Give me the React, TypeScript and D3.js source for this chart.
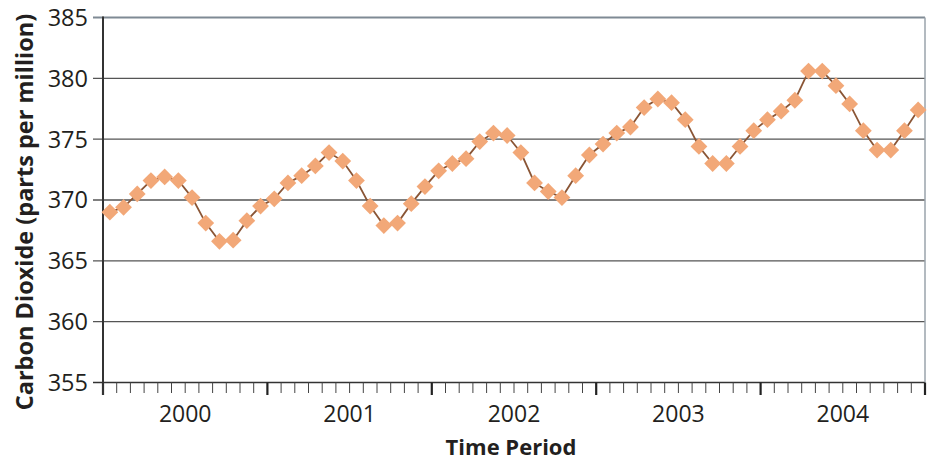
import React from "react";
import * as d3 from "d3";

const years = ["2000", "2001", "2002", "2003", "2004"];
const co2_2000 = [369.0, 369.4, 370.5, 371.6, 371.9, 371.6, 370.2, 368.1, 366.6, 366.7, 368.3, 369.5];
const co2_2001 = [370.1, 371.4, 372.0, 372.8, 373.9, 373.2, 371.6, 369.5, 367.9, 368.1, 369.7, 371.1];
const co2_2002 = [372.4, 373.0, 373.4, 374.8, 375.5, 375.3, 373.9, 371.4, 370.7, 370.2, 372.0, 373.7];
const co2_2003 = [374.6, 375.5, 376.0, 377.6, 378.3, 378.0, 376.6, 374.4, 373.0, 373.0, 374.4, 375.7];
const co2_2004 = [376.6, 377.3, 378.2, 380.6, 380.6, 379.4, 377.9, 375.7, 374.1, 374.1, 375.7, 377.4];
const yTicks = [355, 360, 365, 370, 375, 380, 385];

const values = [...co2_2000, ...co2_2001, ...co2_2002, ...co2_2003, ...co2_2004];

const W = 932;
const H = 461;
const left = 103;
const right = 925;
const top = 17.5;
const bottom = 382.5;

export default function App() {
  const n = values.length;
  const x = d3.scaleLinear().domain([0, n]).range([left, right]);
  const y = d3.scaleLinear().domain([355, 385]).range([bottom, top]);
  const line = d3
    .line<number>()
    .x((_, i) => x(i + 0.5))
    .y((d) => y(d));
  const r = 8.4;
  const diamond = (cx: number, cy: number) =>
    `M${cx},${cy - r}L${cx + r},${cy}L${cx},${cy + r}L${cx - r},${cy}Z`;
  const monthTicks = d3.range(0, n + 1);

  return (
    <svg
      width={W}
      height={H}
      style={{ position: "absolute", left: 0, top: 0 }}
      fontFamily="'Open Sans', sans-serif"
    >
      <rect width={W} height={H} fill="#fff" />
      {/* gridlines */}
      {yTicks.map((t) => (
        <line
          key={"g" + t}
          x1={left - 10}
          x2={right}
          y1={y(t)}
          y2={y(t)}
          stroke={t === 385 ? "#7f8a94" : t === 355 ? "#333" : "#555"}
          strokeWidth={t === 385 ? 2 : 1.3}
        />
      ))}
      {/* right border */}
      <line x1={right} x2={right} y1={top} y2={bottom} stroke="#9aa3ab" strokeWidth={1.5} />
      {/* month ticks */}
      {monthTicks.map((m) => {
        const major = m % 12 === 0;
        return (
          <line
            key={"t" + m}
            x1={x(m)}
            x2={x(m)}
            y1={bottom}
            y2={major ? 395 : 393}
            stroke={major ? "#222" : "#444"}
            strokeWidth={major ? 2.2 : 1}
          />
        );
      })}
      {/* y axis */}
      <line x1={left} x2={left} y1={top - 1} y2={395} stroke="#333" strokeWidth={2} />
      {/* y tick labels */}
      {yTicks.map((t) => (
        <text
          key={"l" + t}
          x={88}
          y={y(t)}
          dy="0.36em"
          textAnchor="end"
          fontSize={23.5}
          fill="#231f20"
        >
          {t}
        </text>
      ))}
      {/* year labels */}
      {years.map((yr, i) => (
        <text
          key={yr}
          x={x(i * 12 + 6)}
          y={422}
          textAnchor="middle"
          fontSize={23}
          fill="#231f20"
        >
          {yr}
        </text>
      ))}
      {/* series */}
      <path d={line(values) || ""} fill="none" stroke="#8a5535" strokeWidth={1.8} />
      {values.map((v, i) => (
        <path key={"p" + i} d={diamond(x(i + 0.5), y(v))} fill="#f2a878" />
      ))}
      {/* axis titles */}
      <text
        x={511}
        y={455}
        textAnchor="middle"
        fontSize={22}
        fontWeight="bold"
        fill="#231f20"
      >
        Time Period
      </text>
      <text
        transform={`translate(33,${212}) rotate(-90)`}
        textAnchor="middle"
        fontSize={23.5}
        fontWeight="bold"
        fill="#231f20"
      >
        Carbon Dioxide (parts per million)
      </text>
    </svg>
  );
}
